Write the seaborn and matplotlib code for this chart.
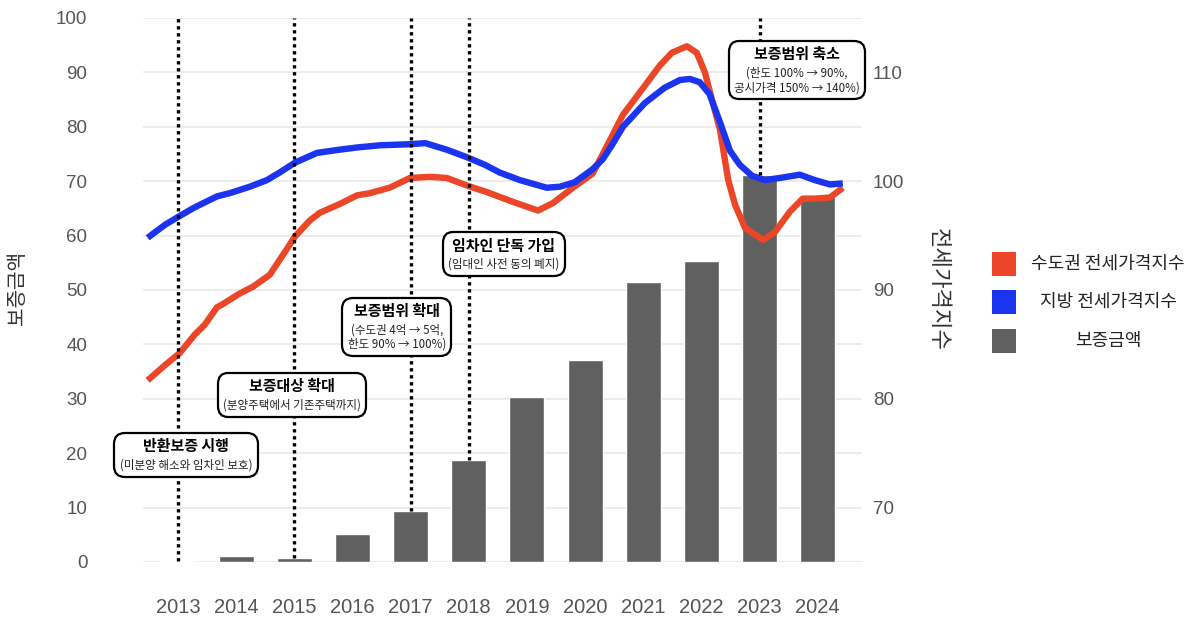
import numpy as np
import pandas as pd
import matplotlib
matplotlib.use("Agg")
import matplotlib.pyplot as plt
import seaborn as sns
from matplotlib.offsetbox import TextArea, VPacker, AnnotationBbox
from matplotlib.patches import Rectangle

# ---------------- data ----------------
years = [2013, 2014, 2015, 2016, 2017, 2018, 2019, 2020, 2021, 2022, 2023, 2024]
guarantee = [0.1, 1.1, 0.7, 5.1, 9.3, 18.8, 30.4, 37.1, 51.5, 55.3, 71.1, 67.3]

capital_t = [2012.48, 2012.78, 2013.03, 2013.29, 2013.46, 2013.67, 2013.77, 2014.07,
             2014.29, 2014.58, 2014.84, 2015.01, 2015.27, 2015.44, 2015.78, 2016.08,
             2016.30, 2016.64, 2016.99, 2017.33, 2017.62, 2017.97, 2018.31, 2018.76,
             2019.19, 2019.45, 2019.79, 2020.13, 2020.43, 2020.65, 2021.03, 2021.28,
             2021.49, 2021.75, 2021.92, 2022.06, 2022.18, 2022.32, 2022.46, 2022.58,
             2022.75, 2023.06, 2023.26, 2023.52, 2023.74, 2023.95, 2024.21, 2024.43]
capital_idx = [81.7, 83.1, 84.2, 85.9, 86.8, 88.4, 88.7, 89.7,
               90.3, 91.4, 93.5, 94.9, 96.4, 97.1, 97.9, 98.7,
               98.9, 99.4, 100.3, 100.4, 100.3, 99.6, 99.0, 98.1,
               97.3, 98.0, 99.4, 100.7, 103.8, 106.1, 108.8, 110.6,
               111.8, 112.4, 111.8, 110.0, 107.5, 104.7, 100.1, 97.8,
               95.7, 94.6, 95.3, 97.2, 98.4, 98.4, 98.5, 99.4]

region_t = [2012.48, 2012.78, 2013.03, 2013.29, 2013.67, 2013.89, 2014.24, 2014.53,
            2014.75, 2015.01, 2015.39, 2015.78, 2016.08, 2016.47, 2016.99, 2017.25,
            2017.62, 2017.97, 2018.28, 2018.53, 2018.88, 2019.34, 2019.57, 2019.82,
            2020.13, 2020.30, 2020.46, 2020.65, 2021.03, 2021.37, 2021.63, 2021.80,
            2021.97, 2022.14, 2022.32, 2022.49, 2022.66, 2022.87, 2023.09, 2023.35,
            2023.69, 2023.95, 2024.21, 2024.43]
region_idx = [94.8, 96.0, 96.8, 97.6, 98.6, 98.9, 99.5, 100.1,
              100.8, 101.7, 102.6, 102.9, 103.1, 103.3, 103.4, 103.5,
              102.9, 102.2, 101.5, 100.8, 100.1, 99.4, 99.5, 99.9,
              101.1, 102.0, 103.3, 105.0, 107.2, 108.6, 109.3, 109.4,
              109.1, 108.0, 105.4, 102.8, 101.5, 100.5, 100.1, 100.3,
              100.6, 100.1, 99.7, 99.8]

event_years = [2013, 2015, 2017, 2018, 2023]
event_titles = ["반환보증 시행", "보증대상 확대", "보증범위 확대", "임차인 단독 가입", "보증범위 축소"]
event_subs = ["(미분양 해소와 임차인 보호)", "(분양주택에서 기존주택까지)",
              "(수도권 4억 → 5억,\n한도 90% → 100%)", "(임대인 사전 동의 폐지)",
              "(한도 100% → 90%,\n공시가격 150% → 140%)"]
box_x = [2013.14, 2014.96, 2016.76, 2018.60, 2023.64]
box_y = [19.7, 30.7, 43.2, 56.6, 90.4]

legend_labels = ["수도권 전세가격지수", "지방 전세가격지수", "보증금액"]

RED = "#EC4628"
BLUE = "#1A34F0"
GREY = "#606060"
TICK = "#555555"

# ---------------- style ----------------
sns.set_theme(style="white")
plt.rcParams["font.family"] = ["Noto Sans CJK KR", "DejaVu Sans"]

W, H = 1192, 618
fig = plt.figure(figsize=(W / 100, H / 100), dpi=100)
ax = fig.add_axes([143 / W, 1 - 562 / H, (862 - 143) / W, (562 - 18) / H])

bar_df = pd.DataFrame({"year": years, "amount": guarantee})
sns.barplot(data=bar_df, x="year", y="amount", native_scale=True, width=0.6,
            color=GREY, saturation=1, ax=ax, zorder=2)
ax.set_xlim(2012.4, 2024.76)
ax.set_ylim(0, 100)
ax.set_yticks(range(0, 101, 10))
ax.set_xticks(years)
ax.set_xticklabels([str(y) for y in years])
ax.grid(axis="y", color="#EBEBEB", lw=1.3)
ax.grid(axis="x", visible=False)
ax.set_axisbelow(True)
ax.set_xlabel("")
ax.set_ylabel("")

ax2 = ax.twinx()
cap_df = pd.DataFrame({"t": capital_t, "v": capital_idx})
reg_df = pd.DataFrame({"t": region_t, "v": region_idx})
sns.lineplot(data=cap_df, x="t", y="v", color=RED, lw=4.6, ax=ax2, sort=True,
             solid_joinstyle="round", solid_capstyle="butt")
sns.lineplot(data=reg_df, x="t", y="v", color=BLUE, lw=4.6, ax=ax2, sort=True,
             solid_joinstyle="round", solid_capstyle="butt")
ax2.set_ylim(65, 115)
ax2.set_yticks([70, 80, 90, 100, 110])
ax2.grid(False)
ax2.set_xlabel("")
ax2.set_ylabel("")
ax2.set_xlim(2012.4, 2024.76)

for a in (ax, ax2):
    for s in a.spines.values():
        s.set_visible(False)

ax.tick_params(axis="both", length=0, colors=TICK, labelsize=13.5)
ax.tick_params(axis="y", pad=40)
ax.tick_params(axis="x", pad=26, labelsize=14.5)
ax2.tick_params(axis="y", length=0, colors=TICK, labelsize=13.5, pad=8)
for lab in ax.get_yticklabels() + ax2.get_yticklabels():
    lab.set_family(["Liberation Sans", "DejaVu Sans"])
for lab in ax.get_xticklabels():
    lab.set_family(["Liberation Sans Narrow", "Liberation Sans", "DejaVu Sans"])

# event dotted lines (drawn in left-axis data coordinates, above the lines)
ev_bar = [guarantee[years.index(y)] for y in event_years]
ax2.vlines(event_years, ev_bar, 100, transform=ax.transData, colors="black",
           linestyles=(0, (1, 1.1)), lw=2.4, zorder=5)

# annotation boxes
for x, y, t, s in zip(box_x, box_y, event_titles, event_subs):
    ta = TextArea(t, textprops=dict(fontsize=10.8, fontweight="bold", color="black"))
    sa = TextArea(s, textprops=dict(fontsize=8.3, color="#222222",
                                    multialignment="center", linespacing=1.15))
    vp = VPacker(children=[ta, sa], align="center", pad=0, sep=3)
    ab = AnnotationBbox(vp, (x, y), xycoords=ax.transData, frameon=True,
                        box_alignment=(0.5, 0.5), pad=0.35,
                        bboxprops=dict(boxstyle="round,pad=0.35,rounding_size=0.7",
                                       fc="white", ec="black", lw=1.6))
    ab.set_zorder(6)
    ax2.add_artist(ab)

# axis titles
fig.text(18 / W, 1 - 288 / H, "보증금액", rotation=90, ha="center", va="center",
         fontsize=14.5, color="#333333")
fig.text(938 / W, 1 - 290 / H, "전세가격지수", rotation=270, ha="center", va="center",
         fontsize=16, color="#333333")

# legend
leg_colors = [RED, BLUE, GREY]
leg_y = [264, 302, 341]
for c, yy, lab in zip(leg_colors, leg_y, legend_labels):
    fig.add_artist(Rectangle((992 / W, 1 - (yy + 12) / H), 24 / W, 24 / H,
                             transform=fig.transFigure, fc=c, ec="none"))
    fig.text(1108 / W, 1 - yy / H, lab, ha="center", va="center",
             fontsize=13, color="#222222")

fig.savefig("out.png", dpi=100)
